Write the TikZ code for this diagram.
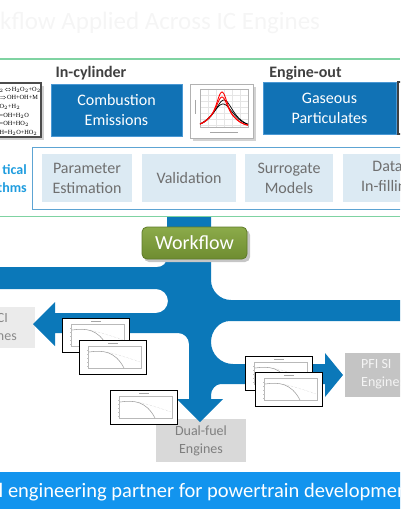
\documentclass[tikz,border=0pt]{standalone}
\usepackage{fontspec}
\setmainfont{Carlito}
\newfontfamily\chemfont{Liberation Serif}
\definecolor{flowblue}{HTML}{0B78B9}
\definecolor{boxblue}{HTML}{1172B5}
\definecolor{boxedge}{HTML}{4A98D4}
\definecolor{lineblue}{HTML}{5DA4D3}
\definecolor{paleblue}{HTML}{DCEAF3}
\definecolor{paletext}{HTML}{6F6F6F}
\definecolor{greenline}{HTML}{7FD3A2}
\definecolor{algblue}{HTML}{1E9CDE}
\definecolor{headgray}{HTML}{404040}
\definecolor{barblue}{HTML}{1294EE}
\definecolor{wfgreenA}{HTML}{8CAB4A}
\definecolor{wfgreenB}{HTML}{6E8C31}
\definecolor{wfedge}{HTML}{5E7A29}
\definecolor{titlegray}{HTML}{F5F5F5}
\definecolor{cigray}{HTML}{EBEBEB}
\definecolor{citext}{HTML}{8A8A8A}
\definecolor{pfigray}{HTML}{C4C4C4}
\definecolor{pfitext}{HTML}{F4F4F4}
\definecolor{dualgray}{HTML}{D9D9D9}
\definecolor{dualtext}{HTML}{7F7F7F}
\tikzset{
  bluebox/.style={draw=boxedge, line width=0.8pt, fill=boxblue, text=white, align=center, inner sep=0pt, font=\fontsize{16}{20}\selectfont},
  algbox/.style={fill=paleblue, text=paletext, align=center, inner sep=0pt, minimum height=48pt, font=\fontsize{16}{20}\selectfont},
  header/.style={text=headgray, inner sep=0pt, font=\fontsize{16}{19}\selectfont\bfseries},
  chartbox/.style={draw=black, line width=0.8pt, fill=white, inner sep=0pt, minimum width=67pt, minimum height=34pt},
  enginetext/.style={inner sep=0pt, font=\fontsize{14}{18}\selectfont},
  greenrule/.style={draw=greenline},
}
\newcommand\minichart[3]{%
  \node[chartbox, anchor=north west] (#1) at (#2,#3) {};
  \begin{scope}[shift={(#1.north west)}]
    \draw[gray!55, line width=0.3pt] (9,6) rectangle (62,28);
    \draw[gray!70, line width=0.8pt] (29,3) -- (39,3);
    \foreach \t in {10,14,18,22,26} \draw[gray!50, line width=0.3pt] (8,\t) -- (10,\t);
    \draw[gray!45, line width=0.4pt, densely dotted] (28,12) .. controls (40,15) and (50,18) .. (61,22);
    \draw[gray!75, line width=0.55pt] (10,12) .. controls (24,10) and (36,11) .. (45,28);
  \end{scope}
}
\begin{document}
\begin{tikzpicture}[x=1pt,y=-1pt]
\useasboundingbox (0,0) rectangle (400,516);
\clip (0,0) rectangle (400,516);

% title
\node[anchor=base west, text=titlegray, inner sep=0pt, font=\fontsize{25}{30}\selectfont] (title) at (0,30) {kflow Applied Across IC Engines};
\draw[greenrule, line width=1.2pt] (0,59) -- (400,59);

% headers
\node[header] (incyl) at (91,73) {In-cylinder};
\node[header] (engout) at (305.5,73) {Engine-out};

% chemistry box
\fill[gray!35] (-2,86) rectangle (44,140);
\node[draw=gray!60!black, line width=1.1pt, fill=white, minimum width=45pt, minimum height=54pt, inner sep=0pt] (chem) at (18.5,110) {};
\node[anchor=north west, align=left, inner sep=0pt, font=\chemfont\fontsize{6.3}{8.6}\selectfont] (eqs) at (-0.5,87) {%
$_2\!\Leftrightarrow$H$_2$O$_2$+O$_2$\\
$\Rightarrow$OH+OH+M\\
O$_2$+H$_2$\\
=OH+H$_2$O\\
=OH+HO$_2$\\
H=H$_2$O+HO$_2$};

% blue boxes
\node[bluebox, minimum width=131pt, minimum height=52pt] (comb) at (116.5,110) {Combustion\\Emissions};
\node[bluebox, minimum width=133pt, minimum height=52pt] (gas) at (329.5,108) {Gaseous\\Particulates};
\node[draw=headgray, line width=1.2pt, fill=white, minimum width=25pt, minimum height=52pt, inner sep=0pt] (nextbox) at (410.5,108) {};

% pressure chart
\fill[gray!35] (193,87) rectangle (256,141);
\node[draw=gray!60, line width=0.8pt, fill=white, minimum width=63pt, minimum height=54pt, inner sep=0pt] (pchart) at (221.5,111) {};
\foreach \gx in {200,208,...,248} \draw[gray!20, line width=0.3pt] (\gx,89) -- (\gx,127);
\foreach \gy in {89,95,...,127} \draw[gray!20, line width=0.3pt] (200,\gy) -- (248,\gy);
\draw[gray!60, line width=0.4pt] (200,89) rectangle (248,127);
\draw[gray!70, line width=0.6pt] (210,132) -- (238,132);
\draw[gray!70, line width=0.6pt] (195,100) -- (195,114);
\draw[black, line width=0.7pt] plot[domain=200:248, samples=50, smooth] (\x, {126 - 18*exp(-((\x-223)/16)^2) - 4*exp(-((\x-223)/8)^2)});
\draw[black, line width=0.7pt] plot[domain=200:248, samples=50, smooth] (\x, {126 - 18*exp(-((\x-224)/16)^2) - 8*exp(-((\x-224)/8)^2)});
\draw[red, line width=0.9pt] plot[domain=200:248, samples=50, smooth] (\x, {126 - 17*exp(-((\x-222)/15)^2) - 12*exp(-((\x-222)/6)^2)});
\draw[red, line width=0.9pt] plot[domain=200:248, samples=50, smooth] (\x, {126 - 17*exp(-((\x-222)/15)^2) - 17*exp(-((\x-222)/6)^2)});

% algorithms
\node[draw=lineblue, line width=1pt, minimum width=380pt, minimum height=62pt, inner sep=0pt] (alg) at (222,178) {};
\node[algbox, minimum width=90pt] (pe) at (87,178) {Parameter\\Estimation};
\node[algbox, minimum width=94pt] (val) at (189,178) {Validation};
\node[algbox, minimum width=88pt] (sur) at (289,178) {Surrogate\\Models};
\node[algbox, minimum width=89pt] (dat) at (387.5,178) {Data\\In-filling};
\node[anchor=east, align=right, text=algblue, inner sep=0pt, font=\fontsize{14}{18}\selectfont\bfseries] (algtext) at (27,179) {tical\\thms};
\draw[greenrule, line width=0.8pt] (0,216) -- (400,216);

% engine boxes
\node[fill=cigray, minimum width=85pt, minimum height=41pt, inner sep=0pt] (cibox) at (-7.5,327.5) {};
\node[enginetext, anchor=east, align=right, text=citext] (citxt) at (17,328) {CI\hspace*{9pt}\\Engines};
\node[fill=pfigray, minimum width=75pt, minimum height=44pt, inner sep=0pt] (pfibox) at (382.5,375) {};
\node[enginetext, anchor=west, align=left, text=pfitext] (pfitxt) at (361,374) {PFI SI\\Engines};
\node[enginetext, fill=dualgray, text=dualtext, align=center, minimum width=90pt, minimum height=43pt] (dual) at (201,440.5) {Dual-fuel\\Engines};

% flow
\fill[flowblue]
  (167,217) -- (167,257) .. controls (167,263) and (163,267) .. (157,267)
  -- (-5,267) -- (-5,289) -- (156,289)
  .. controls (162.6,289) and (168,294.4) .. (168,301)
  .. controls (168,307.6) and (162.6,313) .. (156,313)
  -- (55,313) -- (55,302) -- (33,324) -- (55,346) -- (55,333) -- (178,333)
  .. controls (184,333) and (189,338) .. (189,344)
  -- (189,399) -- (177,399) -- (200,422) -- (223,399) -- (211,399) -- (211,395)
  .. controls (211,389.5) and (215.5,384) .. (221,384)
  -- (325,384) -- (325,397) -- (343,375) -- (325,353) -- (325,364) -- (233,364)
  .. controls (220.8,364) and (211,354.2) .. (211,342)
  .. controls (211,330.5) and (219.5,321) .. (230,321)
  -- (405,321) -- (405,300) -- (231,300)
  .. controls (220,300) and (211,291) .. (211,280)
  -- (211,217) -- cycle;

% workflow button
\fill[gray!45, rounded corners=5pt] (144,230) rectangle (250,262);
\node[draw=wfedge, line width=0.8pt, rounded corners=5pt, top color=wfgreenA, bottom color=wfgreenB, text=white, inner sep=0pt, minimum width=105pt, minimum height=32pt, font=\fontsize{20}{24}\selectfont] (wf) at (194.5,243) {Workflow};

% mini charts
\minichart{cha}{62}{318}
\minichart{chb}{79}{340}
\minichart{chc}{245}{356}
\minichart{chd}{255}{372}
\minichart{che}{110}{390}

% bottom bar
\node[fill=barblue, minimum width=410pt, minimum height=37pt, inner sep=0pt] (bar) at (200,490.5) {};
\node[anchor=base west, text=white, inner sep=0pt, font=\fontsize{20.5}{24}\selectfont] (tagline) at (-1.5,497) {l engineering partner for powertrain development};
\end{tikzpicture}
\end{document}
